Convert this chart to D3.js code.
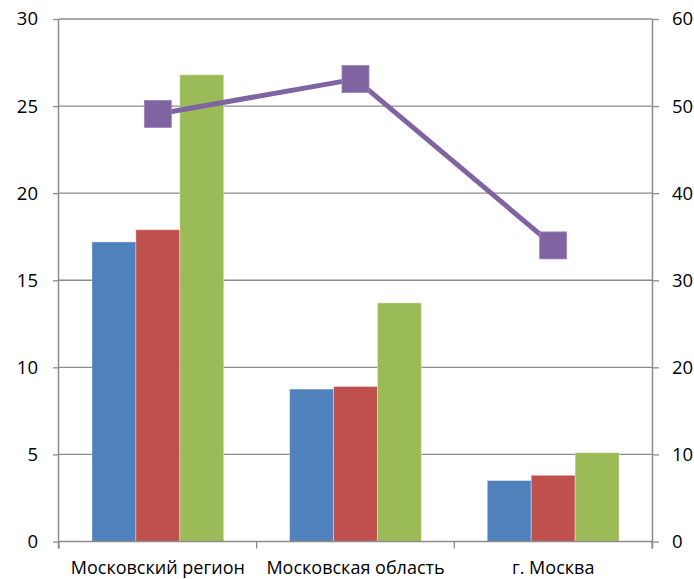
<!DOCTYPE html>
<html>
<head>
<meta charset="utf-8">
<script src="https://cdn.jsdelivr.net/npm/d3@7"></script>
<style>
  html, body { margin: 0; padding: 0; background: #fff; }
  svg { display: block; }
  text { font-family: "Open Sans", "Noto Sans", sans-serif; fill: #000; }
</style>
</head>
<body>
<svg id="chart" width="694" height="579"></svg>
<script>
// Regions shown along the category axis
const categories = ["Московский регион", "Московская область", "г. Москва"];

// Bar series (left axis, 0–30)
const seriesBlue  = [17.2, 8.75, 3.5];
const seriesRed   = [17.9, 8.9, 3.8];
const seriesGreen = [26.8, 13.7, 5.1];

// Line series (right axis, 0–60)
const seriesLine = [49.1, 53.1, 34.0];

// Axis ticks
const leftTicks  = [0, 5, 10, 15, 20, 25, 30];
const rightTicks = [0, 10, 20, 30, 40, 50, 60];

const barColors = ["#4F81BD", "#C0504D", "#9BBB59"];
const lineColor = "#8064A2";
const gridColor = "#8C8C8C";

const W = 694, H = 579;
const margin = { top: 19, right: 42, bottom: 37.5, left: 59 };
const innerW = W - margin.left - margin.right;
const innerH = H - margin.top - margin.bottom;

const svg = d3.select("#chart");
const g = svg.append("g").attr("transform", `translate(${margin.left},${margin.top})`);

const x = d3.scaleBand().domain(categories).range([0, innerW]).paddingInner(0).paddingOuter(0);
const xSub = d3.scaleBand().domain(d3.range(3)).range([x.bandwidth() / 6, x.bandwidth() * 5 / 6]).padding(0);
const yL = d3.scaleLinear().domain([0, 30]).range([innerH, 0]);
const yR = d3.scaleLinear().domain([0, 60]).range([innerH, 0]);

// Horizontal gridlines
g.append("g")
  .selectAll("line")
  .data(leftTicks.filter(d => d > 0))
  .join("line")
  .attr("x1", 0).attr("x2", innerW)
  .attr("y1", d => yL(d)).attr("y2", d => yL(d))
  .attr("stroke", gridColor).attr("stroke-width", 1.3);

// Bars
const barSeries = [seriesBlue, seriesRed, seriesGreen];
const groups = g.append("g")
  .selectAll("g")
  .data(categories)
  .join("g")
  .attr("transform", d => `translate(${x(d)},0)`);

groups.selectAll("rect")
  .data((d, i) => barSeries.map((s, k) => ({ k, v: s[i] })))
  .join("rect")
  .attr("x", d => xSub(d.k))
  .attr("width", xSub.bandwidth())
  .attr("y", d => yL(d.v))
  .attr("height", d => innerH - yL(d.v))
  .attr("fill", d => barColors[d.k])
  .attr("stroke", "rgba(255,255,255,0.35)")
  .attr("stroke-width", 1);

// Left axis
const leftAxis = d3.axisLeft(yL).tickValues(leftTicks).tickSize(6).tickPadding(15);
const gl = g.append("g").call(leftAxis);
gl.select(".domain").attr("d", `M-0.5,0V${innerH + 7}`).attr("stroke", gridColor).attr("stroke-width", 1.5);
gl.selectAll(".tick line").attr("stroke", gridColor).attr("stroke-width", 1.3);
gl.selectAll(".tick text").style("font-size", "18.5px").attr("font-family", null);

// Right axis
const rightAxis = d3.axisRight(yR).tickValues(rightTicks).tickSize(7).tickPadding(13);
const gr = g.append("g").attr("transform", `translate(${innerW},0)`).call(rightAxis);
gr.select(".domain").attr("d", `M0.5,0V${innerH + 7}`).attr("stroke", gridColor).attr("stroke-width", 1.5);
gr.selectAll(".tick line").attr("stroke", gridColor).attr("stroke-width", 1.3);
gr.selectAll(".tick text").style("font-size", "18.5px").attr("font-family", null);

// Category axis
const bottomAxis = d3.axisBottom(x).tickSize(0).tickPadding(0);
const gb = g.append("g").attr("transform", `translate(0,${innerH})`).call(bottomAxis);
gb.select(".domain").attr("d", `M0,0H${innerW}`).attr("stroke", gridColor).attr("stroke-width", 1.5);
gb.selectAll(".tick text")
  .style("font-size", "18px")
  .attr("font-family", null)
  .attr("dy", null)
  .attr("y", 32);
// Tick marks on band boundaries
gb.append("g")
  .selectAll("line")
  .data(d3.range(categories.length + 1))
  .join("line")
  .attr("x1", i => i * x.step()).attr("x2", i => i * x.step())
  .attr("y1", 0).attr("y2", 7)
  .attr("stroke", gridColor).attr("stroke-width", 1.3);

// Line series with square markers
const cx = d => x(d) + x.bandwidth() / 2;
const line = d3.line()
  .x((v, i) => cx(categories[i]))
  .y(v => yR(v));

g.append("path")
  .datum(seriesLine)
  .attr("d", line)
  .attr("fill", "none")
  .attr("stroke", lineColor)
  .attr("stroke-width", 5)
  .attr("stroke-linejoin", "round");

const mk = 27;
g.append("g")
  .selectAll("rect")
  .data(seriesLine)
  .join("rect")
  .attr("x", (v, i) => cx(categories[i]) - mk / 2)
  .attr("y", v => yR(v) - mk / 2)
  .attr("width", mk).attr("height", mk)
  .attr("fill", lineColor)
  .attr("stroke", "#9C86B8")
  .attr("stroke-width", 0.8);
</script>
</body>
</html>
